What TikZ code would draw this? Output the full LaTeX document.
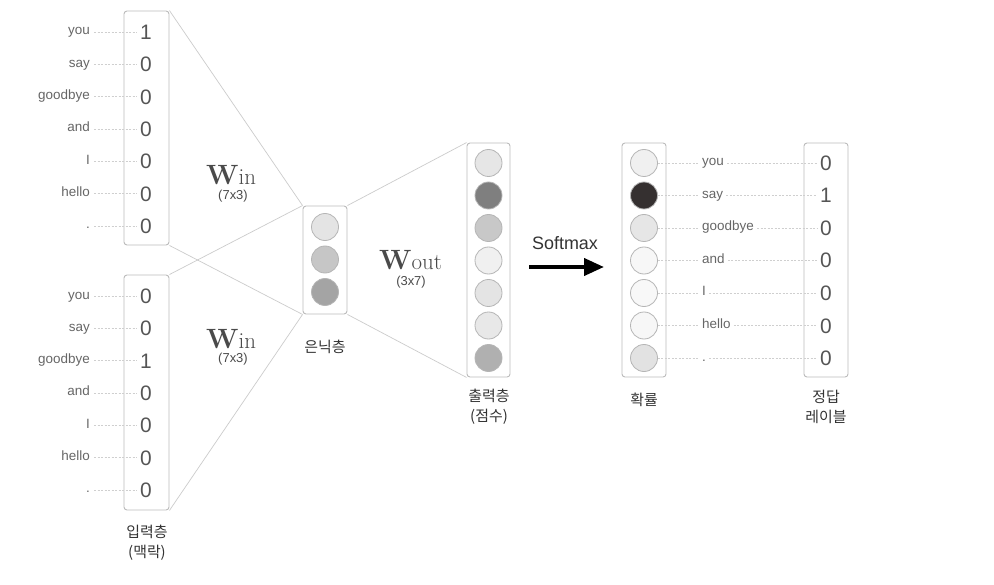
\documentclass[tikz,border=0pt]{standalone}
\usepackage{fontspec}
\newfontfamily\lab{Liberation Sans}
\newfontfamily\kr{Noto Sans CJK KR}
\usetikzlibrary{arrows.meta}
\definecolor{boxgray}{HTML}{BBBBBB}
\definecolor{linegray}{HTML}{CCCCCC}
\definecolor{dotgray}{HTML}{CFCFCF}
\definecolor{circgray}{HTML}{B5B5B5}
\definecolor{wordgray}{HTML}{666666}
\definecolor{digitgray}{HTML}{555555}
\definecolor{krgray}{HTML}{333333}
\definecolor{wgray}{HTML}{4A4A4A}
\tikzset{
  vecbox/.style={draw=boxgray, rounded corners=3bp, line width=0.9bp, inner sep=0},
  conn/.style={draw=linegray, line width=0.7bp},
  dotline/.style={draw=dotgray, dash pattern=on 2bp off 1.5bp, line width=0.5bp},
  unit/.style={circle, draw=circgray, minimum size=27bp, inner sep=0, line width=0.8bp},
  word/.style={font=\lab\fontsize{13.5}{13.5}\selectfont, text=wordgray, text height=9bp, text depth=3bp, inner sep=0},
  digit/.style={font=\lab\fontsize{21}{21}\selectfont, text=digitgray, text height=15bp, text depth=0bp, inner sep=2bp},
  krlab/.style={font=\kr\fontsize{15}{20}\selectfont, text=krgray, align=center},
  dims/.style={font=\lab\fontsize{13}{13}\selectfont, text=wgray},
}
\begin{document}
\begin{tikzpicture}[x=1bp,y=-1bp]
\useasboundingbox (0,0) rectangle (994,585);
\fill[white] (0,0) rectangle (994,585);

% boxes
\node[vecbox, minimum width=45bp, minimum height=234bp] (inA) at (146.5,128) {};
\node[vecbox, minimum width=45bp, minimum height=235bp] (inB) at (146.5,392.5) {};
\node[vecbox, minimum width=44bp, minimum height=108bp] (hid) at (325,260) {};
\node[vecbox, minimum width=43bp, minimum height=234bp] (out) at (488.5,260) {};
\node[vecbox, minimum width=44bp, minimum height=234bp] (prob) at (644,260) {};
\node[vecbox, minimum width=44bp, minimum height=234bp] (ans) at (826,260) {};

% connectors
\draw[conn] (inA.north east) -- (hid.north west);
\draw[conn] (inA.south east) -- (hid.south west);
\draw[conn] (inB.north east) -- (hid.north west);
\draw[conn] (inB.south east) -- (hid.south west);
\draw[conn] (hid.north east) -- (out.north west);
\draw[conn] (hid.south east) -- (out.south west);

% input words and digits
\foreach \w/\a/\b [count=\i from 0] in {you/1/0, say/0/0, goodbye/0/1, and/0/0, I/0/0, hello/0/0, ./0/0}{
  \node[word, anchor=east] (wa\i) at (90,{32+32.33*\i}) {\w};
  \node[digit] (da\i) at (146,{32+32.33*\i}) {\a};
  \draw[dotline] ([xshift=4bp]wa\i.east) -- ([xshift=-1bp]da\i.west);
  \node[word, anchor=east] (wb\i) at (90,{296+32.33*\i}) {\w};
  \node[digit] (db\i) at (146,{296+32.33*\i}) {\b};
  \draw[dotline] ([xshift=4bp]wb\i.east) -- ([xshift=-1bp]db\i.west);
}

% hidden units
\foreach \c [count=\i from 0] in {E4E4E4, C6C6C6, A4A4A4}{
  \definecolor{tmpc}{HTML}{\c}
  \node[unit, fill=tmpc] (h\i) at (325,{227+32.5*\i}) {};
}

% output units
\foreach \c [count=\i from 0] in {E6E6E6, 7F7F7F, C8C8C8, F0F0F0, E4E4E4, E8E8E8, B0B0B0}{
  \definecolor{tmpc}{HTML}{\c}
  \node[unit, fill=tmpc] (o\i) at (488.5,{163+32.5*\i}) {};
}

% probability units, words, answer digits
\foreach \c/\w/\d [count=\i from 0] in {F0F0F0/you/0, 353030/say/1, E6E6E6/goodbye/0, F7F7F7/and/0, F8F8F8/I/0, F7F7F7/hello/0, E2E2E2/./0}{
  \definecolor{tmpc}{HTML}{\c}
  \node[unit, fill=tmpc] (p\i) at (644,{163+32.5*\i}) {};
  \node[word, anchor=west] (wr\i) at (702,{163+32.5*\i}) {\w};
  \node[digit] (dr\i) at (826,{163+32.5*\i}) {\d};
  \draw[dotline] (p\i.east) -- ([xshift=-3bp]wr\i.west);
  \draw[dotline] ([xshift=3bp]wr\i.east) -- ([xshift=-1bp]dr\i.west);
}

% weight labels
\node[anchor=base west, inner sep=0, text=wgray] (win1) at (206,185) {\fontsize{28}{28}\selectfont\bfseries W\fontsize{23}{23}\selectfont\mdseries in};
\node[dims] (win1d) at (233,196) {(7x3)};
\node[anchor=base west, inner sep=0, text=wgray] (win2) at (206,348) {\fontsize{28}{28}\selectfont\bfseries W\fontsize{23}{23}\selectfont\mdseries in};
\node[dims] (win2d) at (233,359) {(7x3)};
\node[anchor=base west, inner sep=0, text=wgray] (wout) at (379,270) {\fontsize{28}{28}\selectfont\bfseries W\fontsize{23}{23}\selectfont\mdseries out};
\node[dims] (woutd) at (411,282) {(3x7)};

% softmax arrow
\node[font=\lab\fontsize{18}{18}\selectfont, text=krgray] (smx) at (565,243) {Softmax};
\coordinate (arrS) at (529,267);
\coordinate (arrE) at (604,267);
\draw[line width=4bp, -{Triangle[length=20bp,width=17bp]}] (arrS) -- (arrE);

% layer captions
\node[krlab] (capIn) at (147,543) {입력층\\(맥락)};
\node[krlab] (capHid) at (325,347) {은닉층};
\node[krlab] (capOut) at (489,407) {출력층\\(점수)};
\node[krlab] (capProb) at (644,400) {확률};
\node[krlab] (capAns) at (826,407) {정답\\레이블};
\end{tikzpicture}
\end{document}
